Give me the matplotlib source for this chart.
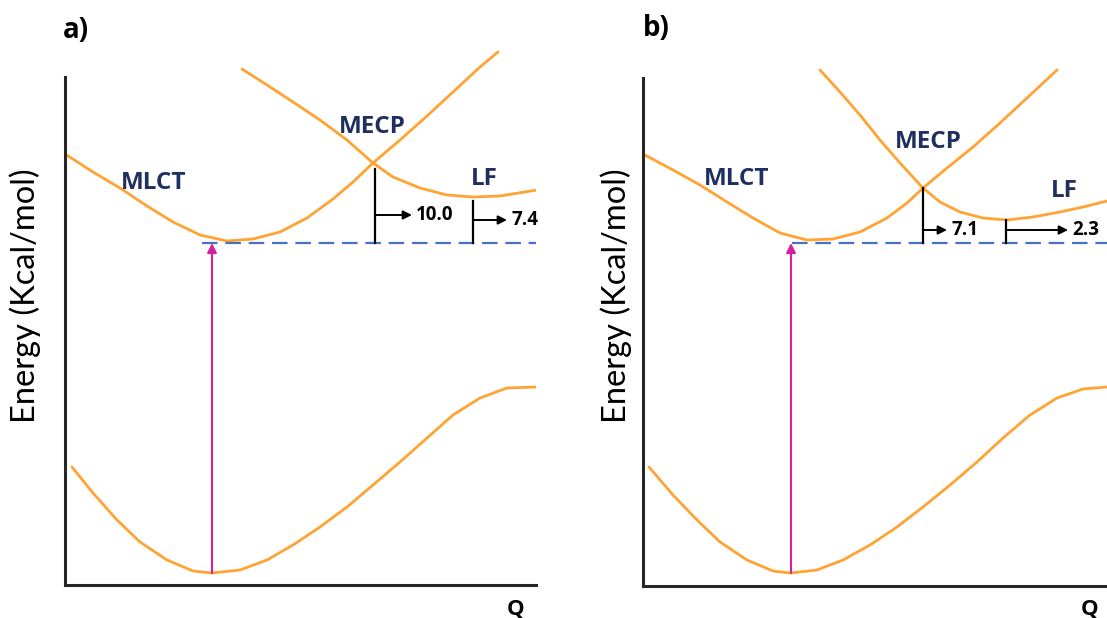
import matplotlib.pyplot as plt

# schematic energy curves
# units: Q and E measured from the axes origin (arbitrary units)
mlct_a_q = [0, 28, 55, 82, 108, 135, 162, 188, 215, 242, 268, 288, 308, 335, 362, 388, 415, 433]
mlct_a_e = [431, 413, 397, 379, 363, 350, 344, 346, 353, 367, 386, 403, 422, 445, 469, 493, 518, 533]
lf_a_q = [177, 202, 228, 255, 282, 308, 328, 355, 382, 408, 435, 472]
lf_a_e = [516, 500, 483, 465, 445, 422, 408, 397, 390, 388, 389, 395]
gs_a_q = [7, 28, 52, 75, 102, 128, 147, 175, 202, 228, 255, 282, 308, 335, 362, 388, 415, 442, 472]
gs_a_e = [118, 92, 65, 43, 25, 14, 12, 15, 25, 40, 58, 78, 100, 123, 147, 170, 187, 197, 198]

mlct_b_q = [0, 30, 57, 84, 110, 137, 164, 190, 217, 244, 264, 280, 304, 330, 357, 384, 414]
mlct_b_e = [432, 416, 401, 384, 368, 353, 346, 347, 354, 368, 383, 398, 418, 439, 463, 488, 516]
lf_b_q = [177, 197, 217, 237, 257, 280, 297, 317, 340, 364, 390, 417, 440, 464]
lf_b_e = [516, 494, 471, 446, 423, 398, 384, 374, 368, 366, 369, 374, 379, 385]
gs_b_q = [6, 30, 54, 77, 104, 130, 147, 174, 200, 227, 254, 280, 307, 334, 360, 387, 414, 440, 464]
gs_b_e = [119, 91, 66, 44, 26, 15, 13, 16, 26, 41, 59, 79, 101, 124, 148, 171, 188, 197, 199]

# excitation (Q, bottom, top), MLCT minimum level, barriers (Q, top, value)
excite_a = (147, 12, 342)
excite_b = (148, 13, 343)
level_a = 342
level_b = 343
barriers_a = [(310, 416, "10.0"), (408, 384, "7.4")]
barriers_b = [(280, 398, "7.1"), (363, 366, "2.3")]

ORANGE = "#FFA333"
MAGENTA = "#D6219E"
BLUE = "#4472C4"
NAVY = "#1F3060"
BOLD = ["Open Sans", "DejaVu Sans"]
plt.rcParams["font.family"] = ["Lato", "DejaVu Sans"]

fig = plt.figure(figsize=(11.07, 6.18), dpi=100)


def add_panel(x0, y0):
    ax = fig.add_axes([x0 / 1107, (618 - y0) / 618, 471 / 1107, 560 / 618])
    ax.set_xlim(0, 471)
    ax.set_ylim(0, 560)
    ax.patch.set_visible(False)
    for s in ["top", "right"]:
        ax.spines[s].set_visible(False)
    ax.spines["left"].set_bounds(0, 508)
    ax.spines["bottom"].set_bounds(0, 471)
    for s in ["left", "bottom"]:
        ax.spines[s].set_linewidth(2.2)
        ax.spines[s].set_color("#262626")
    ax.set_xticks([])
    ax.set_yticks([])
    return ax


def draw(ax, curves, excite, level, level_start, barriers, arrow_dx, arrow_e):
    for q, e in curves:
        ax.plot(q, e, color=ORANGE, lw=2.0, solid_capstyle="round",
                solid_joinstyle="round")
    ax.plot([level_start, 471], [level, level], color=BLUE, lw=1.6,
            linestyle=(0, (7, 3.5)))
    qx, e0, e1 = excite
    ax.annotate("", xy=(qx, e1), xytext=(qx, e0),
                arrowprops=dict(arrowstyle="-|>", color=MAGENTA, lw=1.5,
                                mutation_scale=14, shrinkA=0, shrinkB=0))
    for (qb, top, lab), dx, ea in zip(barriers, arrow_dx, arrow_e):
        ax.plot([qb, qb], [level, top], color="black", lw=1.6)
        ax.annotate("", xy=(qb + dx, ea), xytext=(qb, ea),
                    arrowprops=dict(arrowstyle="-|>", color="black", lw=1.4,
                                    mutation_scale=13, shrinkA=0, shrinkB=0))
        ax.text(qb + dx + 4, ea, lab, fontsize=13.5, fontweight="bold",
                family=BOLD, ha="left", va="center")


def labels(ax, mlct, mecp, lf, tag, qpos, ylab):
    kw = dict(color=NAVY, fontsize=17.5, fontweight="bold", family=BOLD, va="center")
    ax.text(*mlct, "MLCT", **kw)
    ax.text(*mecp, "MECP", **kw)
    ax.text(*lf, "LF", **kw)
    ax.text(*tag, fontsize=20, fontweight="bold", family=BOLD, va="center")
    ax.text(*qpos, "Q", fontsize=16, fontweight="bold", family=BOLD,
            ha="center", va="baseline")
    ax.text(*ylab, "Energy (Kcal/mol)", rotation=90, fontsize=23.5,
            ha="center", va="center")


ax_a = add_panel(65, 585)
draw(ax_a, [(mlct_a_q, mlct_a_e), (lf_a_q, lf_a_e), (gs_a_q, gs_a_e)],
     excite_a, level_a, 137, barriers_a, [37, 34], [370, 365])
labels(ax_a, (56, 402), (274, 458), (406, 406), (-2, 555, "a)"),
       (451, -29), (-40, 289))

ax_b = add_panel(643, 586)
draw(ax_b, [(mlct_b_q, mlct_b_e), (lf_b_q, lf_b_e), (gs_b_q, gs_b_e)],
     excite_b, level_b, 149, barriers_b, [24, 62], [356, 356])
labels(ax_b, (61, 407), (252, 444), (408, 395), (0, 558, "b)"),
       (447, -29), (-27, 290))

fig.savefig("out.png", dpi=100)
